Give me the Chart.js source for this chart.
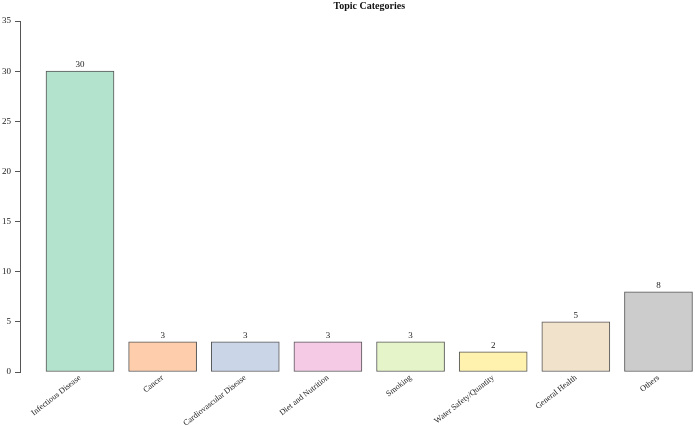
<!DOCTYPE html>
<html><head><meta charset="utf-8">
<script src="https://cdn.jsdelivr.net/npm/chart.js@4"></script>
<style>html,body{margin:0;padding:0;background:#fff}#wrap{width:695px;height:427px}</style>
</head><body><div id="wrap"><canvas id="c"></canvas></div>
<script>
const categories = ["Infectious Disease","Cancer","Cardiovascular Disease","Diet and Nutrition","Smoking","Water Safety/Quantity","General Health","Others"];
const counts = [30,3,3,3,3,2,5,8];
const colors = ["#B3E2CD","#FDCDAC","#CBD5E8","#F4CAE4","#E6F5C9","#FFF2AE","#F1E2CC","#CCCCCC"];
const yTicks = [0,5,10,15,20,25,30,35];
const title = "Topic Categories";

const FONT = "'Liberation Serif', 'Times New Roman', serif";
const valueLabels = {
  id: 'valueLabels',
  afterDatasetsDraw(chart) {
    const ctx = chart.ctx;
    const meta = chart.getDatasetMeta(0);
    ctx.save();
    ctx.font = "9px " + FONT;
    ctx.fillStyle = "#222";
    ctx.textAlign = "center";
    ctx.textBaseline = "alphabetic";
    meta.data.forEach((el, i) => {
      ctx.fillText(String(counts[i]), el.x, el.y - 4);
    });
    // title centred over the plotting region (as in base R)
    const xs = chart.scales.x;
    const cx = xs.getPixelForValue((categories.length - 1) / 2);
    ctx.font = "bold 10px " + FONT;
    ctx.fillStyle = "#111";
    ctx.textBaseline = "middle";
    ctx.fillText(title, cx, 6);
    ctx.restore();
  }
};

new Chart(document.getElementById('c'), {
  type: 'bar',
  data: {
    datasets: [{
      data: counts.map((v, i) => ({x: i, y: v})),
      backgroundColor: colors,
      borderColor: "#555",
      borderWidth: 1,
      borderSkipped: false,
      barThickness: 68
    }]
  },
  options: {
    responsive: true,
    maintainAspectRatio: false,
    animation: false,
    devicePixelRatio: 1,
    layout: {padding: {left: 0, right: 0, top: 21, bottom: 0}},
    plugins: {
      legend: {display: false},
      tooltip: {enabled: false},
      title: {display: false}
    },
    scales: {
      x: {
        type: 'linear',
        min: -0.726, max: 7.442,
        offset: false,
        afterBuildTicks: s => { s.ticks = categories.map((_, i) => ({value: i})); },
        afterFit: s => { s.height = 55; },
        border: {display: false},
        grid: {display: false, drawTicks: false},
        ticks: {
          autoSkip: false, minRotation: 38, maxRotation: 38, padding: 1,
          color: "#222", font: {family: FONT, size: 8.2},
          callback: v => categories[v] ?? ''
        }
      },
      y: {
        min: 0, max: 35,
        afterBuildTicks: s => { s.ticks = yTicks.map(v => ({value: v})); },
        afterFit: s => { s.width = 20; },
        border: {display: true, color: "#555", width: 1},
        grid: {drawOnChartArea: false, drawTicks: true, tickLength: 5, color: "#555"},
        ticks: {padding: 4, color: "#222", font: {family: FONT, size: 9}}
      }
    }
  },
  plugins: [valueLabels]
});
</script></body></html>
